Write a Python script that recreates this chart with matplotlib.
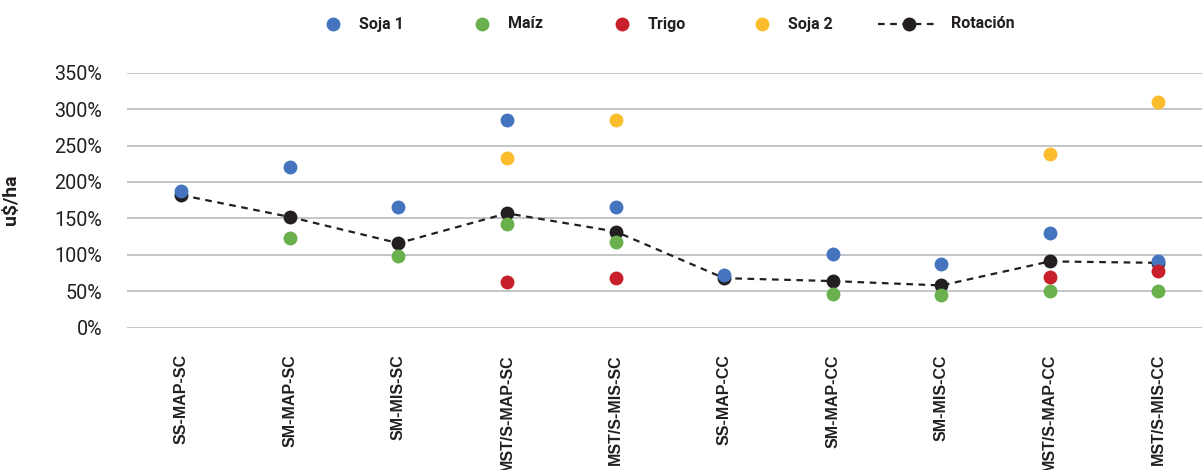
import matplotlib
matplotlib.use("Agg")
import matplotlib.pyplot as plt
from matplotlib.lines import Line2D
from matplotlib.ticker import FuncFormatter

plt.rcParams['font.family'] = ['Roboto', 'DejaVu Sans']

categories = ["SS-MAP-SC", "SM-MAP-SC", "SM-MIS-SC", "MST/S-MAP-SC", "MST/S-MIS-SC",
              "SS-MAP-CC", "SM-MAP-CC", "SM-MIS-CC", "MST/S-MAP-CC", "MST/S-MIS-CC"]
soja1 = [188, 221, 166, 285, 165, 72, 101, 87, 130, 91]
maiz = [None, 123, 98, 143, 117, None, 46, 45, 51, 50]
trigo = [None, None, None, 63, 68, None, None, None, 70, 78]
soja2 = [None, None, None, 233, 285, None, None, None, 238, 310]
rotacion = [182, 152, 116, 157, 132, 68, 64, 58, 91, 89]
yticks = [0, 50, 100, 150, 200, 250, 300, 350]
series_labels = ["Soja 1", "Maíz", "Trigo", "Soja 2", "Rotación"]

c_soja1 = "#4474be"
c_maiz = "#6ab04c"
c_trigo = "#c8202a"
c_soja2 = "#fbbd2e"
c_rot = "#231f20"
txt = "#231f20"

W, H = 1202, 470
fig = plt.figure(figsize=(W / 100, H / 100), dpi=100)
ax = fig.add_axes([127 / W, (H - 327.7) / H, (W - 127) / W, (327.7 - 72.7) / H])

x = list(range(len(categories)))

def pts(vals):
    xs = [i for i, v in zip(x, vals) if v is not None]
    ys = [v for v in vals if v is not None]
    return xs, ys

ms = 10
dash = (0, (3, 2.5))
ax.plot(x, rotacion, linestyle=dash, color=c_rot, linewidth=1.6,
        marker='o', markersize=ms, markeredgewidth=0, zorder=3, clip_on=False)
for vals, col, z in [(soja1, c_soja1, 4), (maiz, c_maiz, 5), (trigo, c_trigo, 6), (soja2, c_soja2, 7)]:
    xs, ys = pts(vals)
    ax.plot(xs, ys, linestyle='none', marker='o', markersize=ms, color=col,
            markeredgewidth=0, zorder=z, clip_on=False)

ax.set_xlim(-0.5, (W - 181) / 108.6)
ax.set_ylim(0, 350)
ax.set_yticks(yticks)
ax.yaxis.set_major_formatter(FuncFormatter(lambda v, p: f"{int(v)}%"))
ax.set_xticks(x)
ax.set_xticklabels(categories, rotation=90, fontsize=11.5, fontweight='bold',
                   color=txt, va='top', family=['Liberation Sans', 'DejaVu Sans'])
ax.tick_params(axis='x', length=0, pad=19)
ax.tick_params(axis='y', length=0, pad=18, labelsize=14.2, labelcolor=txt)
ax.grid(axis='y', color='#b9bcbc', linewidth=1.2)
ax.set_axisbelow(True)
for s in ax.spines.values():
    s.set_visible(False)

ax.set_ylabel("u$/ha", fontsize=14, fontweight='bold', color=txt)
ax.yaxis.set_label_coords(-0.0995, 0.5)

# legend (manual layout, figure pixel positions)
ly = (H - 24) / H
marker_x = [333, 482, 622, 762]
text_x = [359, 508, 648, 788]
cols = [c_soja1, c_maiz, c_trigo, c_soja2]
for mx, tx, col, lab in zip(marker_x, text_x, cols, series_labels[:4]):
    fig.add_artist(Line2D([mx / W], [ly], linestyle='none', marker='o', markersize=ms,
                          color=col, markeredgewidth=0, transform=fig.transFigure))
    fig.text(tx / W, ly, lab, ha='left', va='center', fontsize=11.5,
             fontweight='bold', color=txt)
fig.add_artist(Line2D([878 / W, 938 / W], [ly, ly], linestyle=dash, linewidth=1.6,
                      color=c_rot, transform=fig.transFigure))
fig.add_artist(Line2D([909 / W], [ly], linestyle='none', marker='o', markersize=ms,
                      color=c_rot, markeredgewidth=0, transform=fig.transFigure))
fig.text(951 / W, ly, series_labels[4], ha='left', va='center', fontsize=11.5,
         fontweight='bold', color=txt)

fig.savefig("out.png", dpi=100)
